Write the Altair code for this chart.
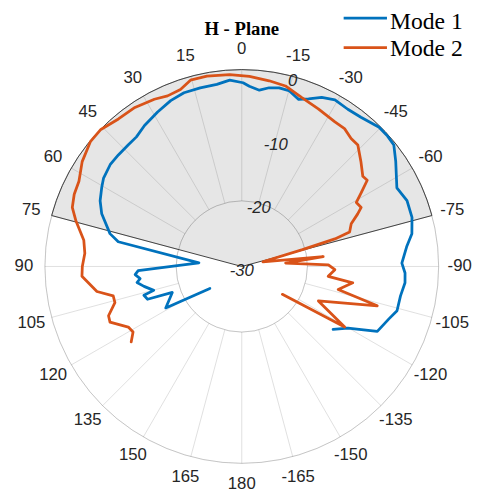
import math
import altair as alt
import pandas as pd

# ---------------- data (angle in degrees, CCW from top; gain in dB) ----------------
modes = ["Mode 1", "Mode 2"]
colors = ["#0072BD", "#D95319"]

theta_mode1 = [124.5, 118.6, 110.5, 109.2, 106.4, 105.2, 101.5, 98.7, 96.8, 94.4, 92.3, 85.1,
               78.7, 76.0, 69.4, 65.1, 60.6, 57.4, 52.3, 47.9, 43.1, 39.1, 34.6, 28.6, 23.2,
               18.4, 13.1, 7.8, 3.7, -0.4, -2.4, -5.7, -8.7, -11.8, -15.0, -18.8, -21.7, -25.3,
               -29.2, -34.0, -38.6, -44.6, -48.2, -51.4, -55.7, -63.1, -68.3, -73.9, -79.1,
               -83.2, -88.8, -92.3, -95.7, -100.5, -105.9, -109.6, -115.6, -117.8, -120.1, -124.6]
db_mode1 = [-24.1, -16.8, -18.7, -14.8, -14.45, -16.1, -14.8, -13.85, -14.4, -13.7, -14.2, -23.45,
            -10.8, -9.3, -7.2, -6.2, -5.5, -5.0, -4.65, -4.65, -4.65, -4.55, -3.9, -3.2, -2.5,
            -2.1, -2.05, -2.0, -1.55, -2.0, -2.5, -3.0, -2.45, -2.2, -2.25, -3.1, -2.5, -1.5,
            -0.9, -1.1, -0.9, -0.2, -0.2, -0.35, -1.6, -3.5, -2.9, -3.0, -3.6,
            -4.7, -5.6, -5.1, -5.0, -5.4, -5.4, -6.2, -7.1, -9.4, -11.3, -13.1]

theta_mode2 = [124.3, 121.1, 118.1, 112.9, 110.3, 105.9, 102.9, 99.8, 93.5, 90.0, 85.2, 80.6,
               74.5, 70.8, 66.7, 62.4, 56.7, 50.5, 45.8, 39.9, 33.9, 27.6, 23.5, 19.1, 15.4,
               10.4, 3.6, -2.3, -8.4, -13.6, -19.6, -25.9, -32.8, -36.7, -40.5, -43.7, -48.6,
               -53.3, -55.5, -58.3, -60.8, -63.7, -65.6, -68.7, -72.3, -73.5, -74.5, -77.5,
               -83.1, -85.6, -88.9, -92.0, -96.5, -98.4, -103.4, -106.2, -114.2, -120.5, -124.5]
db_mode2 = [-9.6, -10.65, -10.4, -8.2, -8.35, -9.9, -9.9, -7.6, -5.6, -5.7, -6.0, -5.6,
            -3.75, -2.65, -2.2, -2.0, -0.9, -0.1, -0.05, -0.7, -0.8, -1.25, -1.65, -1.45, -0.55,
            -0.5, -0.7, -1.0, -1.4, -1.7, -2.7, -3.3, -3.8, -3.8, -4.35, -4.4, -5.8,
            -7.0, -6.8, -8.6, -10.0, -9.7, -10.6, -12.1, -12.75, -15.2, -20.4, -26.7,
            -17.5, -23.3, -16.8, -15.8, -16.75, -12.9, -14.9, -8.5, -17.2, -11.8, -22.5]

angle_ticks = [0, 15, 30, 45, 60, 75, 90, 105, 120, 135, 150, 165, 180,
               -165, -150, -135, -120, -105, -90, -75, -60, -45, -30, -15]
angle_labels = [str(a) for a in angle_ticks]
r_ticks = [-30, -20, -10, 0]
r_labels = ["-30", "-20", "-10", "0"]
ring_levels = [-20, -10, 0]
title_text = "H - Plane"

# ---------------- tables ----------------
rows = []
for m, th, db in [(modes[0], theta_mode1, db_mode1), (modes[1], theta_mode2, db_mode2)]:
    for i, (t, d) in enumerate(zip(th, db)):
        rows.append({"mode": m, "i": i, "theta": t, "db": d})
curves_df = pd.DataFrame(rows)

xs = alt.Scale(domain=[-30, 30], nice=False, zero=False)
ys = alt.Scale(domain=[-30, 30], nice=False, zero=False)
rscale = alt.Scale(type="linear", domain=[0, 30], range=[0, 200], zero=True)
GRID = "#262626"
TXT = "#262626"
SERIF = "Liberation Serif, Times New Roman, Times, serif"
SANS = "Liberation Sans, Arial, Helvetica, sans-serif"

X = lambda f: alt.X(f, type="quantitative", scale=xs, axis=None)
Y = lambda f: alt.Y(f, type="quantitative", scale=ys, axis=None)

sector_df = pd.DataFrame({"db": [0]})
sector = alt.Chart(sector_df).transform_calculate(rr="datum.db + 30").mark_arc(
    theta=math.radians(285), theta2=math.radians(435), color="#e6e6e6"
).encode(radius=alt.Radius("rr:Q", scale=rscale))

rings = alt.Chart(pd.DataFrame({"db": ring_levels})).transform_calculate(
    rr="datum.db + 30").mark_arc(
    theta=0, theta2=2 * math.pi, filled=False, stroke=GRID, strokeOpacity=0.15, strokeWidth=1
).encode(radius=alt.Radius("rr:Q", scale=rscale))

spokes = alt.Chart(pd.DataFrame({"a": angle_ticks})).transform_calculate(
    x1="-10*sin(datum.a*PI/180)", y1="10*cos(datum.a*PI/180)",
    x2="-30*sin(datum.a*PI/180)", y2="30*cos(datum.a*PI/180)"
).mark_rule(stroke=GRID, strokeOpacity=0.15, strokeWidth=1).encode(
    x=X("x1"), y=Y("y1"), x2="x2:Q", y2="y2:Q")

outline = alt.Chart(sector_df).transform_calculate(rr="datum.db + 30").mark_arc(
    theta=math.radians(285), theta2=math.radians(435), filled=False,
    stroke="#404040", strokeWidth=1
).encode(radius=alt.Radius("rr:Q", scale=rscale))

curves = alt.Chart(curves_df).transform_calculate(
    px="-(datum.db+30)*sin(datum.theta*PI/180)",
    py="(datum.db+30)*cos(datum.theta*PI/180)"
).mark_line(strokeWidth=2.8, strokeJoin="round", strokeCap="round").encode(
    x=X("px"), y=Y("py"),
    color=alt.Color("mode:N", scale=alt.Scale(domain=modes, range=colors), legend=None),
    order="i:Q")

alabels = alt.Chart(pd.DataFrame({"a": angle_ticks, "label": angle_labels})).transform_calculate(
    lx="-33.2*sin(datum.a*PI/180)", ly="33.2*cos(datum.a*PI/180)"
).mark_text(font=SANS, fontSize=17, color=TXT, align="center", baseline="middle").encode(
    x=X("lx"), y=Y("ly"), text="label:N")

rlabels = alt.Chart(pd.DataFrame({"v": r_ticks, "label": r_labels})).transform_calculate(
    lx="(datum.v+30)*sin(15*PI/180)", ly="(datum.v+30)*cos(15*PI/180)"
).mark_text(font=SANS, fontStyle="italic", fontSize=17, color=TXT,
            align="center", baseline="middle", dy=5).encode(
    x=X("lx"), y=Y("ly"), text="label:N")

title = alt.Chart(pd.DataFrame({"t": [title_text]})).mark_text(
    font=SERIF, fontWeight="bold", fontSize=19, color="#000000",
    align="center", baseline="middle").encode(
    x=alt.value(200), y=alt.value(-40.7), text="t:N")

legend_layers = []
for k, (m, c) in enumerate(zip(modes, colors)):
    line_y = -52.4 + 30.0 * k
    base_y = -41.7 + 28.3 * k
    ldf = pd.DataFrame({"mode": [m]})
    legend_layers.append(alt.Chart(ldf).mark_rule(color=c, strokeWidth=2.8).encode(
        x=alt.value(303.5), x2=alt.value(347.5), y=alt.value(line_y)))
    legend_layers.append(alt.Chart(ldf).mark_text(
        font=SERIF, fontSize=24, color="#000000", align="left",
        baseline="alphabetic").encode(x=alt.value(350.5), y=alt.value(base_y), text="mode:N"))

chart = alt.layer(sector, rings, spokes, outline, curves, alabels, rlabels, title,
                  *legend_layers).properties(
    width=400, height=400,
    padding={"left": 37.5, "top": 58.7, "right": 41, "bottom": 30},
    autosize=alt.AutoSizeParams(type="none"),
).configure_view(strokeWidth=0)

chart.save("out.html", embed_options={"renderer": "svg", "actions": False})
